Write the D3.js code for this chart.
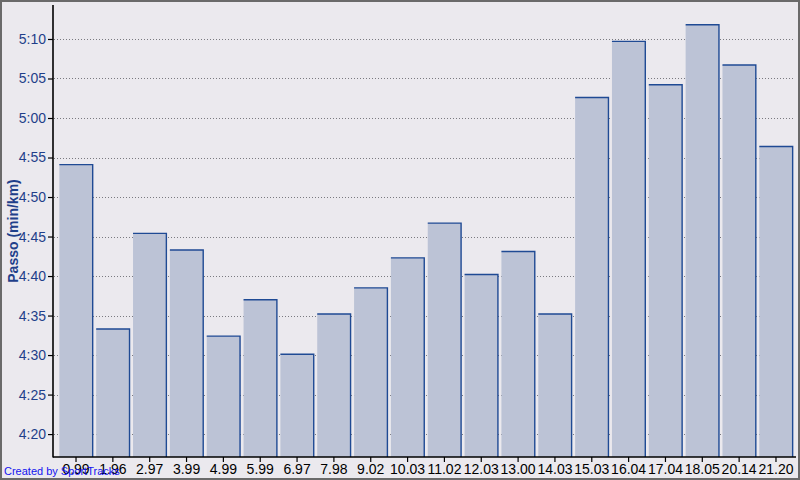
<!DOCTYPE html>
<html><head><meta charset="utf-8">
<script src="https://cdn.jsdelivr.net/npm/d3@7"></script>
<style>
html,body{margin:0;padding:0;background:#fff;}
svg{display:block;}
.tk{font-family:"Liberation Sans Narrow","Arial Narrow","Liberation Sans",Arial,sans-serif;font-size:14px;}
</style></head>
<body>
<svg id="c" width="800" height="480"></svg>
<script>
const categories = ["0.99","1.96","2.97","3.99","4.99","5.99","6.97","7.98","9.02","10.03","11.02","12.03","13.00","14.03","15.03","16.04","17.04","18.05","20.14","21.20"];
// pace in seconds per km
const paceSeconds = [294.1,273.3,285.4,283.3,272.4,277.0,270.1,275.2,278.5,282.3,286.7,280.2,283.1,275.2,302.6,309.7,304.2,311.8,306.7,296.4];
const yTicks = [260,265,270,275,280,285,290,295,300,305,310];
const yTitle = "Passo (min/km)";
const credit = "Created by SportTracks";

const W=800,H=480;
const svg=d3.select("#c");
svg.append("rect").attr("x",0).attr("y",0).attr("width",W).attr("height",H).attr("fill","#ebe9ee");
const pLeft=53, pTop=5, pBottom=457, pRight=796;
const y=d3.scaleLinear().domain([257.1,314.3]).range([pBottom,pTop]);
const x=d3.scaleBand().domain(categories).range([57.6,794.4]).paddingInner(0.095).paddingOuter(0.0475);

const fmt=s=>Math.floor(s/60)+":"+String(Math.round(s%60)).padStart(2,"0");

// gridlines
svg.append("g").selectAll("line").data(yTicks).join("line")
  .attr("x1",pLeft+1).attr("x2",793).attr("y1",d=>Math.round(y(d))+0.5).attr("y2",d=>Math.round(y(d))+0.5)
  .attr("stroke","#7a7a80").attr("stroke-width",1).attr("stroke-dasharray","1,2");

// bars
const bars=svg.append("g");
bars.selectAll("rect").data(categories).join("rect")
  .attr("x",d=>x(d)).attr("width",x.bandwidth())
  .attr("y",(d,i)=>y(paceSeconds[i])).attr("height",(d,i)=>pBottom-y(paceSeconds[i]))
  .attr("fill","#bcc3d6");
bars.selectAll("path").data(categories).join("path")
  .attr("d",(d,i)=>{const x0=x(d),x1=x(d)+x.bandwidth(),yt=y(paceSeconds[i]);return `M${x0},${yt}H${x1}V${pBottom}`;})
  .attr("fill","none").attr("stroke","#1f4a94").attr("stroke-width",1.4);

// y axis
const ya=svg.append("g").attr("transform",`translate(${pLeft},0)`)
  .call(d3.axisLeft(y).tickValues(yTicks).tickFormat(fmt).tickSize(5).tickPadding(2));
ya.select(".domain").remove();
ya.selectAll(".tick line").attr("stroke","#000").attr("stroke-width",1.2);
ya.selectAll(".tick text").attr("class","tk").attr("fill","#1f3f8a").style("font-size","14px");
ya.attr("font-family",null).attr("font-size",null);
// x axis
const xa=svg.append("g").attr("transform",`translate(0,${pBottom})`)
  .call(d3.axisBottom(x).tickSize(5).tickPadding(2));
xa.select(".domain").remove();
xa.selectAll(".tick line").attr("stroke","#000").attr("stroke-width",1.2);
xa.selectAll(".tick text").attr("class","tk").attr("fill","#000").style("font-size","14px");
xa.attr("font-family",null).attr("font-size",null);

// axis lines
svg.append("line").attr("x1",pLeft).attr("x2",pLeft).attr("y1",pTop).attr("y2",pBottom+0.5).attr("stroke","#000").attr("stroke-width",1.6);
svg.append("line").attr("x1",pLeft).attr("x2",pRight).attr("y1",pBottom).attr("y2",pBottom).attr("stroke","#000").attr("stroke-width",1.6);

// y title
svg.append("text").attr("transform","translate(18,231) rotate(-90)").attr("text-anchor","middle")
  .attr("font-family","Liberation Sans, Arial, sans-serif").attr("font-size",14).attr("font-weight","bold")
  .attr("fill","#1f3f8a").text(yTitle);

// credit
svg.append("text").attr("x",4).attr("y",475).attr("font-family","Liberation Sans, Arial, sans-serif")
  .attr("font-size",11).attr("fill","#1414f0").text(credit);

// border
svg.append("rect").attr("x",1).attr("y",1).attr("width",W-2).attr("height",H-2).attr("fill","none").attr("stroke","#6a6a6a").attr("stroke-width",2);
</script>
</body></html>
